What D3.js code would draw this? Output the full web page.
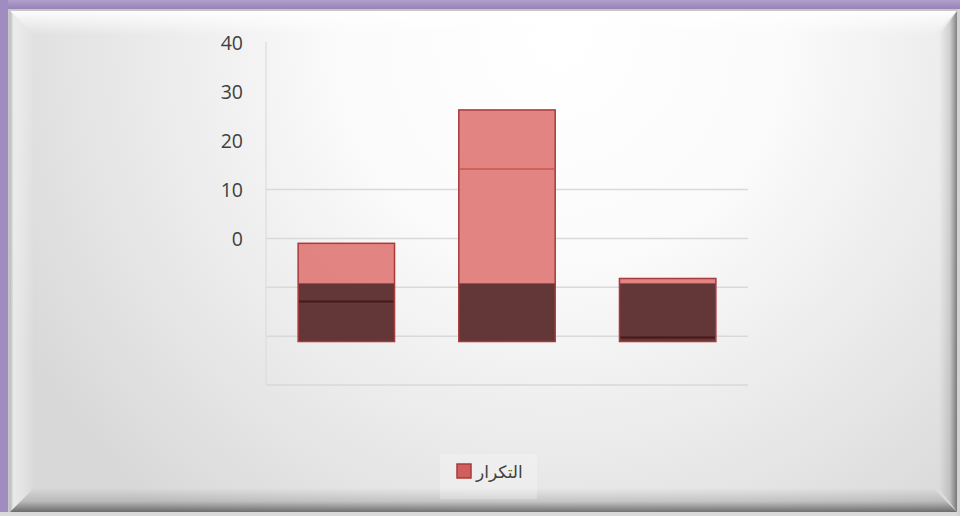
<!DOCTYPE html>
<html>
<head>
<meta charset="utf-8">
<script src="https://cdn.jsdelivr.net/npm/d3@7"></script>
<style>
  html, body { margin: 0; padding: 0; background: #fff; overflow: hidden; }
  svg { display: block; }
</style>
</head>
<body>
<svg id="chart" width="960" height="516"></svg>
<script>
// Chart data
const categories = ["1", "2", "3"];
const frequency = [-1, 26.3, -8.2];       // top of each front face
const backEdge = [-12.9, 14.2, -20.3];    // depth edge line seen through each column
const columnBase = -21.1;                 // bottom of the columns
const shadeTop = -9.2;                    // top of the shaded lower block
const tickLabels = [40, 30, 20, 10, 0];
const gridValues = [10, 0, -10, -20, -30];
const seriesName = "التكرار";

const svg = d3.select("#chart");
const W = 960, H = 516;
const defs = svg.append("defs");

// Panel background
const panel = { x: 8, y: 9, w: W - 8, h: H - 9 };
const bg = defs.append("radialGradient").attr("id", "bgGrad")
  .attr("gradientUnits", "userSpaceOnUse")
  .attr("cx", 560).attr("cy", 40).attr("r", 620);
bg.append("stop").attr("offset", 0).attr("stop-color", "#ffffff");
bg.append("stop").attr("offset", 0.35).attr("stop-color", "#fbfbfb");
bg.append("stop").attr("offset", 0.75).attr("stop-color", "#e6e6e6");
bg.append("stop").attr("offset", 1).attr("stop-color", "#d8d8d8");
svg.append("rect").attr("width", W).attr("height", H).attr("fill", "#c6c6c6");
svg.append("rect").attr("x", panel.x + 2).attr("y", panel.y + 2)
  .attr("width", panel.w - 2).attr("height", panel.h - 6).attr("fill", "url(#bgGrad)");

// Purple frame on the top and left sides
const frameGrad = defs.append("linearGradient").attr("id", "frameGrad")
  .attr("x1", 0).attr("y1", 0).attr("x2", 0).attr("y2", 1);
frameGrad.append("stop").attr("offset", 0).attr("stop-color", "#b0a0cc");
frameGrad.append("stop").attr("offset", 1).attr("stop-color", "#9783b8");
svg.append("rect").attr("x", 0).attr("y", 0).attr("width", W).attr("height", panel.y).attr("fill", "url(#frameGrad)");
svg.append("rect").attr("x", 0).attr("y", 0).attr("width", panel.x).attr("height", H).attr("fill", "#a08cc0");

// Bevel edges
function lin(id, x1, y1, x2, y2, stops) {
  const g = defs.append("linearGradient").attr("id", id)
    .attr("x1", x1).attr("y1", y1).attr("x2", x2).attr("y2", y2);
  stops.forEach(s => g.append("stop").attr("offset", s[0]).attr("stop-color", s[1]).attr("stop-opacity", s[2]));
}
lin("bevTop", 0, 0, 0, 1, [[0, "#ffffff", 0.9], [1, "#ffffff", 0]]);
lin("bevLeft", 0, 0, 1, 0, [[0, "#a8a8a8", 0.7], [0.15, "#f4f4f4", 0.6], [1, "#ffffff", 0]]);
lin("bevBottom", 0, 0, 0, 1, [[0, "#000000", 0], [0.55, "#000000", 0.14], [1, "#000000", 0.5]]);
lin("bevRight", 0, 0, 1, 0, [[0, "#000000", 0], [0.6, "#000000", 0.12], [1, "#000000", 0.45]]);
const bx0 = panel.x + 2, by0 = panel.y + 2, bx1 = W - 3, by1 = H - 4, bv = 24;
svg.append("polygon").attr("points", [[bx0, by0], [bx1, by0], [bx1 - bv, by0 + bv], [bx0 + bv, by0 + bv]].join(" "))
  .attr("fill", "url(#bevTop)");
svg.append("polygon").attr("points", [[bx0, by0], [bx0 + bv, by0 + bv], [bx0 + bv, by1 - bv], [bx0, by1]].join(" "))
  .attr("fill", "url(#bevLeft)");
svg.append("polygon").attr("points", [[bx0, by1], [bx0 + bv, by1 - bv], [bx1 - bv, by1 - bv], [bx1, by1]].join(" "))
  .attr("fill", "url(#bevBottom)");
svg.append("polygon").attr("points", [[bx1, by0], [bx1, by1], [bx1 - bv + 6, by1 - bv], [bx1 - bv + 6, by0 + bv]].join(" "))
  .attr("fill", "url(#bevRight)");
svg.append("rect").attr("x", 0).attr("y", by1).attr("width", W).attr("height", H - by1).attr("fill", "#dadada");
svg.append("rect").attr("x", bx1).attr("y", panel.y).attr("width", W - bx1).attr("height", H).attr("fill", "#d2d2d2");

// Scales
const plot = { left: 266, right: 748, top: 43, bottom: 385 };
const x = d3.scaleBand().domain(categories)
  .range([plot.left, plot.right]).paddingInner(0.4).paddingOuter(0.2);
const y = d3.scaleLinear().domain([-30, 40]).range([plot.bottom, plot.top]);

// Gridlines
svg.append("g").selectAll("line").data(gridValues).join("line")
  .attr("x1", plot.left).attr("x2", plot.right)
  .attr("y1", d => y(d)).attr("y2", d => y(d))
  .attr("stroke", "#d9d9d9").attr("stroke-width", 1.5);
svg.append("line").attr("x1", plot.left).attr("x2", plot.left)
  .attr("y1", plot.top - 1).attr("y2", plot.bottom)
  .attr("stroke", "#dcdcdc").attr("stroke-width", 1.2);

// Y axis labels
const yAxis = d3.axisLeft(y).tickValues(tickLabels).tickSize(0).tickPadding(0).tickFormat(d3.format("d"));
const ag = svg.append("g").attr("transform", `translate(${243},0)`).call(yAxis);
ag.select(".domain").remove();
ag.selectAll("text").attr("font-family", "'Open Sans', 'Liberation Sans', sans-serif")
  .attr("font-size", 19.5).attr("fill", "#404040").attr("dy", "0.34em");

// Columns
const cols = svg.append("g").selectAll("g").data(categories).join("g");
cols.append("rect")
  .attr("x", d => x(d)).attr("width", x.bandwidth())
  .attr("y", (d, i) => y(frequency[i]))
  .attr("height", (d, i) => y(columnBase) - y(frequency[i]))
  .attr("fill", "#e07c79").attr("fill-opacity", 0.93);
cols.append("rect")
  .attr("x", d => x(d)).attr("width", x.bandwidth())
  .attr("y", y(shadeTop))
  .attr("height", y(columnBase) - y(shadeTop))
  .attr("fill", "#5e3334").attr("fill-opacity", 0.96);
cols.append("line")
  .attr("x1", d => x(d) + 1).attr("x2", d => x(d) + x.bandwidth() - 1)
  .attr("y1", (d, i) => y(backEdge[i])).attr("y2", (d, i) => y(backEdge[i]))
  .attr("stroke", (d, i) => backEdge[i] > shadeTop ? "#d2605d" : "#471819")
  .attr("stroke-width", 2);
cols.append("rect")
  .attr("x", d => x(d)).attr("width", x.bandwidth())
  .attr("y", (d, i) => y(frequency[i]))
  .attr("height", (d, i) => y(columnBase) - y(frequency[i]))
  .attr("fill", "none").attr("stroke", "#a83a3a").attr("stroke-width", 1.5);

// Legend
const lg = svg.append("g");
lg.append("rect").attr("x", 440).attr("y", 454).attr("width", 97).attr("height", 45)
  .attr("fill", "#ffffff").attr("fill-opacity", 0.25);
lg.append("rect").attr("x", 457).attr("y", 464).attr("width", 14).attr("height", 14)
  .attr("fill", "#d0605e").attr("stroke", "#a83a3a").attr("stroke-width", 1.5);
lg.append("text").attr("x", 476).attr("y", 472).attr("dy", "0.35em")
  .attr("text-anchor", "start")
  .attr("font-family", "'DejaVu Sans', 'Noto Sans', sans-serif").attr("font-size", 17)
  .attr("fill", "#404040").text(seriesName);
</script>
</body>
</html>
